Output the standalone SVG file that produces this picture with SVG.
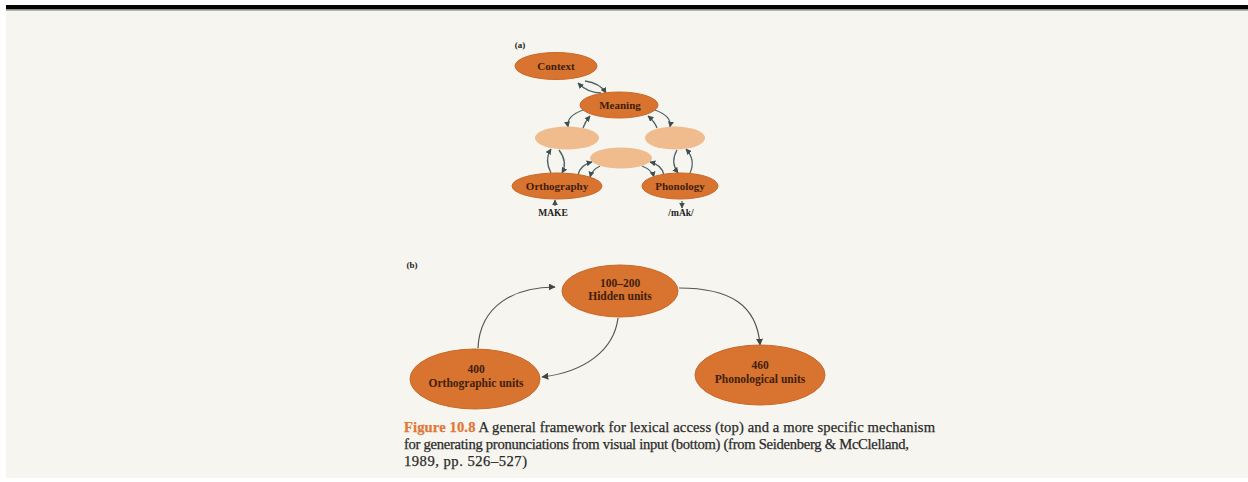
<svg xmlns="http://www.w3.org/2000/svg" width="1248" height="482" viewBox="0 0 1248 482">
<defs>
<style>
.bg{fill:#f6f5ef}
.dark{fill:#d8742f;stroke:#c9682a;stroke-width:1}
.light{fill:#f0bb8d}
.nt{font-family:"Liberation Serif",serif;font-weight:bold;fill:#3f1e0c;text-anchor:middle}
.lab{font-family:"Liberation Serif",serif;font-weight:bold;fill:#222;text-anchor:middle}
.cap{font-family:"Liberation Serif",serif;font-size:14.6px;fill:#2a2a2a;stroke:#2a2a2a;stroke-width:0.25}
.c{fill:none;stroke:#4d6468;stroke-width:1.3}
.cb{fill:none;stroke:#555;stroke-width:1.2}
</style>
<marker id="ah" viewBox="0 0 10 10" refX="9" refY="5" markerWidth="6" markerHeight="6" orient="auto-start-reverse" markerUnits="userSpaceOnUse">
<path d="M0,0 L10,5 L0,10 z" fill="#3d4f52"/>
</marker>
<marker id="ab" viewBox="0 0 10 10" refX="9" refY="5" markerWidth="7" markerHeight="7" orient="auto-start-reverse" markerUnits="userSpaceOnUse">
<path d="M0,0 L10,5 L0,10 z" fill="#444"/>
</marker>
</defs>
<rect x="0" y="0" width="1248" height="482" fill="#ffffff"/>
<rect class="bg" x="6" y="10" width="1242" height="468"/>
<rect x="6" y="5" width="1242" height="4.5" fill="#050505"/>
<rect x="6" y="9.5" width="1242" height="1.2" fill="#9a9a95"/>

<text class="lab" x="520" y="48" font-size="9">(a)</text>
<text class="lab" x="412" y="268" font-size="9">(b)</text>

<g id="connectors">
<!-- (a) -->
<path class="c" d="M578,83 Q588,93 601,93" marker-start="url(#ah)"/>
<path class="c" d="M585,81 Q600,83 606,93" marker-end="url(#ah)"/>
<path class="c" d="M583,110 Q566,116 568,127" marker-end="url(#ah)"/>
<path class="c" d="M590,116 Q585,122 583,128" marker-start="url(#ah)"/>
<path class="c" d="M655,110 Q672,116 670,127" marker-end="url(#ah)"/>
<path class="c" d="M648,116 Q655,122 657,128" marker-start="url(#ah)"/>
<path class="c" d="M551,149 Q544,160 551,173" marker-start="url(#ah)"/>
<path class="c" d="M559,150 Q568,162 562,173" marker-end="url(#ah)"/>
<path class="c" d="M677,150 Q670,162 678,173" marker-end="url(#ah)"/>
<path class="c" d="M686,149 Q696,160 690,173" marker-start="url(#ah)"/>
<path class="c" d="M592,162 Q580,165 578,175" marker-start="url(#ah)"/>
<path class="c" d="M600,166 Q592,170 590,177" marker-end="url(#ah)"/>
<path class="c" d="M642,166 Q652,170 654,177" marker-end="url(#ah)"/>
<path class="c" d="M650,162 Q662,165 664,175" marker-start="url(#ah)"/>
<path class="c" d="M555,206 L555,200" marker-end="url(#ah)"/>
<path class="c" d="M682,201 L682,208" marker-end="url(#ah)"/>
<!-- (b) -->
<path class="cb" d="M478,348 C480,305 515,287 555,287" marker-end="url(#ab)"/>
<path class="cb" d="M618,318 C614,350 585,372 542,377" marker-end="url(#ab)"/>
<path class="cb" d="M679,288 C730,288 757,305 760,345" marker-end="url(#ab)"/>
</g>

<g id="context"><ellipse class="dark" cx="556" cy="66" rx="41" ry="13.5"/><text class="nt" x="556" y="70" font-size="11">Context</text></g>
<g id="meaning"><ellipse class="dark" cx="619" cy="105" rx="39" ry="13"/><text class="nt" x="620" y="109" font-size="11">Meaning</text></g>
<g id="hidden-left"><ellipse class="light" cx="567" cy="138" rx="32" ry="11.5"/></g>
<g id="hidden-right"><ellipse class="light" cx="675" cy="138" rx="30" ry="11.5"/></g>
<g id="hidden-mid"><ellipse class="light" cx="621" cy="158" rx="31" ry="10.5"/></g>
<g id="orthography"><ellipse class="dark" cx="557" cy="186" rx="45" ry="13"/><text class="nt" x="557" y="190" font-size="11">Orthography</text></g>
<g id="phonology"><ellipse class="dark" cx="680" cy="186" rx="38" ry="13"/><text class="nt" x="680" y="190" font-size="11">Phonology</text></g>
<g id="make"><text class="lab" x="553" y="216" font-size="9.5">MAKE</text></g>
<g id="mak"><text class="lab" x="681" y="216" font-size="9.5">/mAk/</text></g>

<g id="hidden-units"><ellipse class="dark" cx="620" cy="291" rx="58" ry="26"/><text class="nt" x="620" y="287" font-size="11.5">100–200</text><text class="nt" x="620" y="300" font-size="11.5">Hidden units</text></g>
<g id="ortho-units"><ellipse class="dark" cx="475" cy="379" rx="65" ry="30"/><text class="nt" x="476" y="373" font-size="11.5">400</text><text class="nt" x="476" y="387" font-size="11.5">Orthographic units</text></g>
<g id="phono-units"><ellipse class="dark" cx="760" cy="375" rx="65" ry="30"/><text class="nt" x="760" y="369" font-size="11.5">460</text><text class="nt" x="760" y="383" font-size="11.5">Phonological units</text></g>

<g id="caption">
<text class="cap" x="404" y="432" textLength="531" lengthAdjust="spacing"><tspan fill="#e0783a" stroke="#e0783a" font-weight="bold">Figure 10.8</tspan>  A general framework for lexical access (top) and a more specific mechanism</text>
<text class="cap" x="404" y="449" textLength="505" lengthAdjust="spacing">for generating pronunciations from visual input (bottom) (from Seidenberg &amp; McClelland,</text>
<text class="cap" x="404" y="466" textLength="123" lengthAdjust="spacing">1989, pp. 526–527)</text>
</g>
</svg>
